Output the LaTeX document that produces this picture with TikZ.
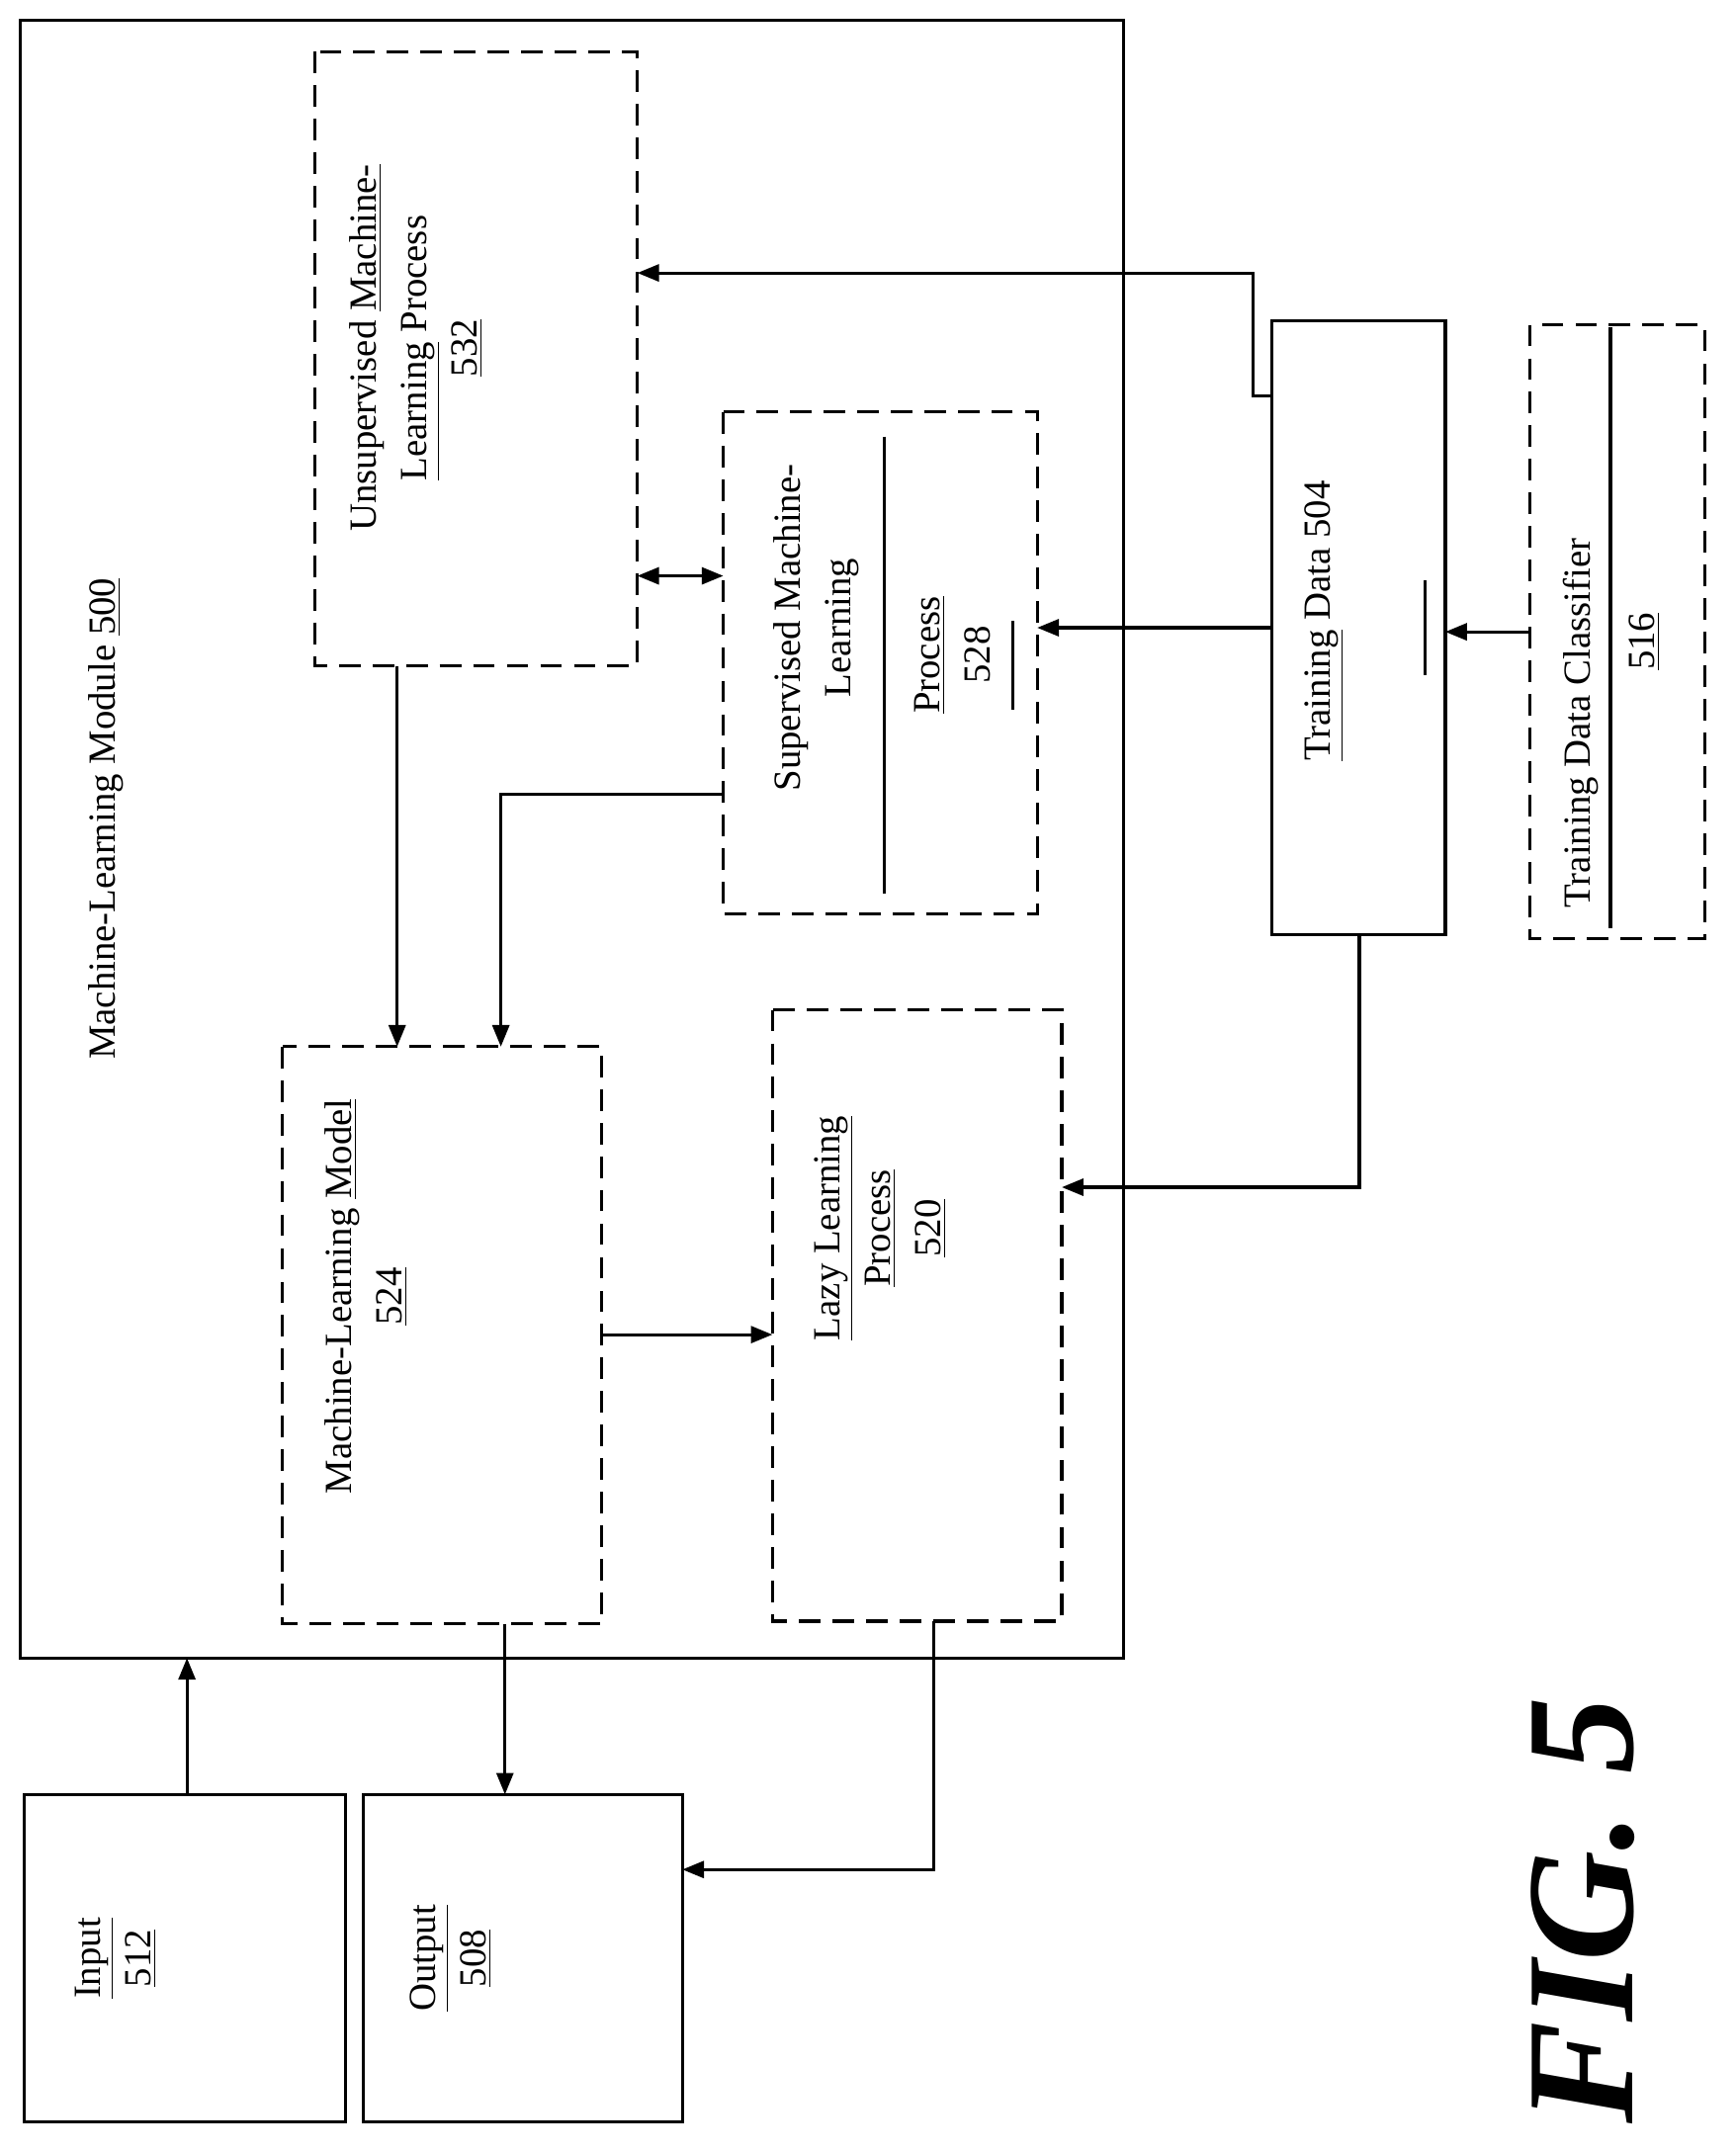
\documentclass[tikz,border=0pt]{standalone}
\usepackage{fontspec}
\setmainfont{Liberation Serif}
\usetikzlibrary{arrows.meta}
\begin{document}
\begin{tikzpicture}[x=0.02cm,y=-0.02cm,
  box/.style={draw,line width=1.3pt},
  dbox/.style={draw,line width=1.3pt,dash pattern=on 9pt off 5pt},
  lab/.style={rotate=90,align=center,font=\fontsize{16}{21}\selectfont,inner sep=0},
  arr/.style={line width=1.3pt,-{Triangle[length=9pt,width=7pt]}},
  ln/.style={line width=1.3pt}]
\useasboundingbox (0,0) rectangle (1272,1577);
\draw[box] (15,15) rectangle (823,1215);
\coordinate (uTL) at (231,38); \coordinate (uBR) at (467,488);
\draw[dbox] (uTL) rectangle (uBR);
\draw[dbox] (530,302) rectangle (760,670);
\draw[dbox] (207,767) rectangle (441,1190);
\draw[dbox] (566,740) rectangle (778,1188);
\draw[box] (932,235) rectangle (1059,685);
\draw[dbox] (1121,238) rectangle (1249,688);
\draw[box] (18,1315) rectangle (253,1555);
\draw[box] (266,1315) rectangle (500,1555);

\node[lab] (mod) at (78,600) {Machine-Learning Module \underline{500}};
\node[lab] (uns) at (305,255) {Unsupervised \underline{Machine-}\\\underline{Learning} Process\\\underline{532}};
\node[lab] (sup) at (598,460) {Supervised Machine-\\Learning};
\node[lab] (sup2) at (698,480) {\underline{Process}\\528};
\draw[ln] (648,320) -- (648,655);
\draw[ln] (742,455) -- (742,520);
\node[lab] (mlm) at (268,950) {Machine-Learning \underline{Model}\\\underline{524}};
\node[lab] (lazy) at (645,900) {\underline{Lazy Learning}\\\underline{Process}\\\underline{520}};
\node[lab] (td) at (970,455) {\underline{Training} Data 504};
\draw[ln] (1044,425) -- (1044,495);
\node[lab] (tdc) at (1158,530) {Training Data Classifier};
\node[lab] (n516) at (1205,470) {\underline{516}};
\draw[ln] (1180,240) -- (1180,680);
\node[lab] (in) at (85,1435) {\underline{Input}\\\underline{512}};
\node[lab] (out) at (330,1435) {\underline{Output}\\\underline{508}};
\node[rotate=90,font=\fontsize{64}{64}\selectfont\bfseries\itshape] (fig) at (1160,1400) {FIG. 5};

\draw[arr] (932,290) -- (918,290) -- (918,200) -- (467,200);
\draw[line width=1.3pt,{Triangle[length=9pt,width=7pt]}-{Triangle[length=9pt,width=7pt]}] (467,422) -- (530,422);
\draw[arr] (932,460) -- (760,460);
\draw[arr] (1121,463) -- (1059,463);
\draw[arr] (291,488) -- (291,767);
\draw[arr] (530,582) -- (367,582) -- (367,767);
\draw[arr] (441,978) -- (566,978);
\draw[arr] (996,685) -- (996,870) -- (778,870);
\draw[arr] (684,1188) -- (684,1370) -- (500,1370);
\draw[arr] (370,1190) -- (370,1315);
\draw[arr] (137,1315) -- (137,1215);
\end{tikzpicture}
\end{document}
